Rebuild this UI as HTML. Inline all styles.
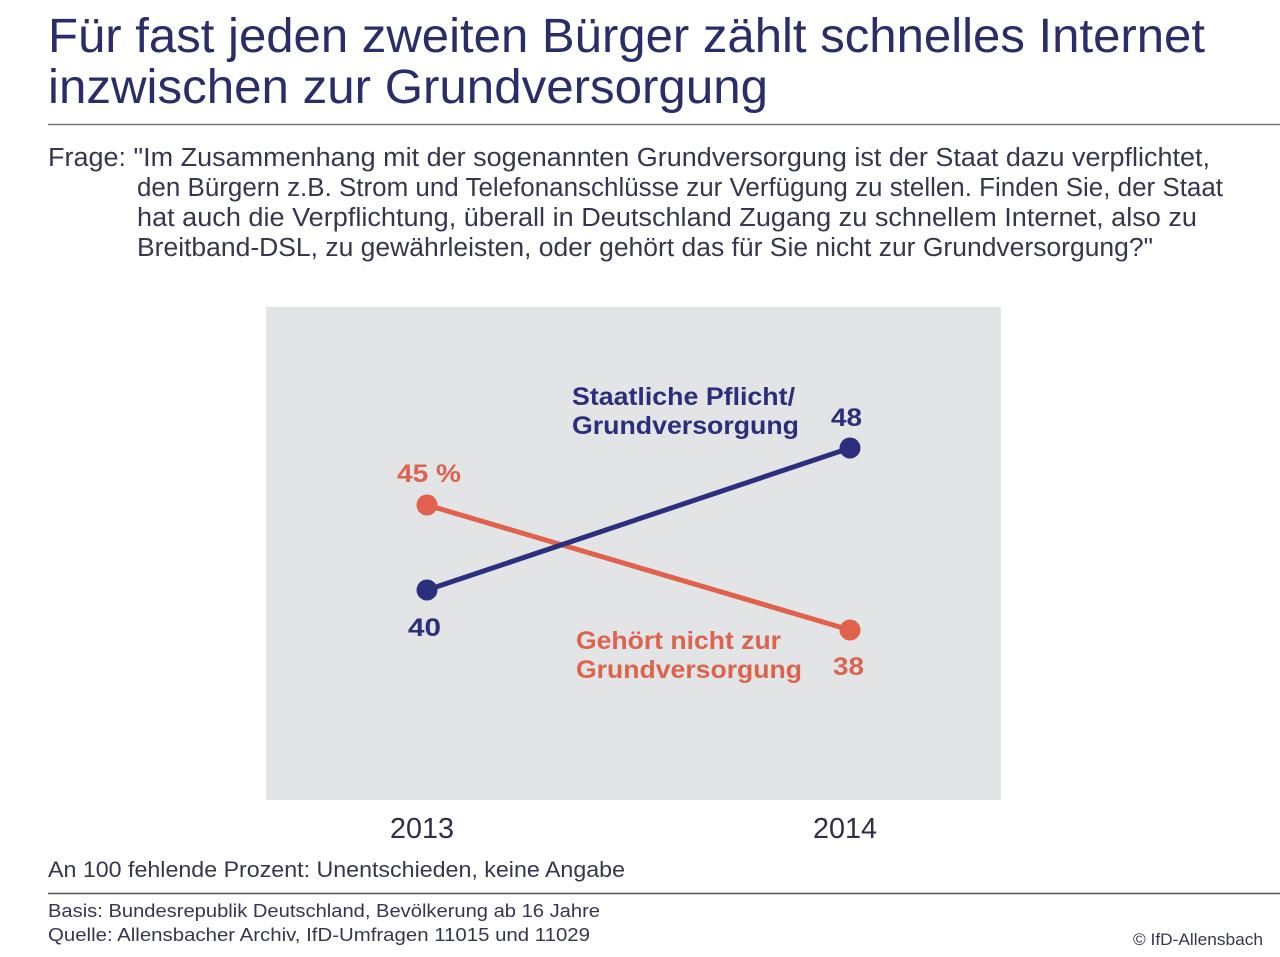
<!DOCTYPE html>
<html>
<head>
<meta charset="utf-8">
<style>
html,body{margin:0;padding:0;background:#fff;}
svg{display:block;}
text{font-family:"Liberation Sans",sans-serif;}
</style>
</head>
<body>
<svg width="1280" height="957" viewBox="0 0 1280 957" xmlns="http://www.w3.org/2000/svg">
<rect x="0" y="0" width="1280" height="957" fill="#ffffff"/>
<!-- Title -->
<g fill="#2a2d68" font-size="48">
<text x="48" y="52" textLength="1157" lengthAdjust="spacingAndGlyphs">Für fast jeden zweiten Bürger zählt schnelles Internet</text>
<text x="48" y="103" textLength="720" lengthAdjust="spacingAndGlyphs">inzwischen zur Grundversorgung</text>
</g>
<line x1="48" y1="124.5" x2="1280" y2="124.5" stroke="#7a7a7a" stroke-width="1.6"/>
<!-- Question -->
<g fill="#35374c" font-size="25.5">
<text x="48" y="166" textLength="1162" lengthAdjust="spacingAndGlyphs">Frage: "Im Zusammenhang mit der sogenannten Grundversorgung ist der Staat dazu verpflichtet,</text>
<text x="137" y="196" textLength="1086" lengthAdjust="spacingAndGlyphs">den Bürgern z.B. Strom und Telefonanschlüsse zur Verfügung zu stellen. Finden Sie, der Staat</text>
<text x="137" y="226" textLength="1060" lengthAdjust="spacingAndGlyphs">hat auch die Verpflichtung, überall in Deutschland Zugang zu schnellem Internet, also zu</text>
<text x="137" y="256" textLength="1016" lengthAdjust="spacingAndGlyphs">Breitband-DSL, zu gewährleisten, oder gehört das für Sie nicht zur Grundversorgung?"</text>
</g>
<!-- Chart box -->
<rect x="266" y="307" width="735" height="493" fill="#e3e4e6"/>
<!-- Lines -->
<line x1="427" y1="505" x2="850" y2="630" stroke="#e0614c" stroke-width="5"/>
<line x1="427" y1="590" x2="850" y2="448" stroke="#2b2f7e" stroke-width="5"/>
<circle cx="427" cy="505" r="10.5" fill="#e0614c"/>
<circle cx="850" cy="630" r="10.5" fill="#e0614c"/>
<circle cx="427" cy="590" r="10.5" fill="#2b2f7e"/>
<circle cx="850" cy="448" r="10.5" fill="#2b2f7e"/>
<!-- Labels -->
<g font-weight="bold" font-size="25" fill="#2b2f7a">
<text x="572" y="405" textLength="223" lengthAdjust="spacingAndGlyphs">Staatliche Pflicht/</text>
<text x="572" y="434" textLength="227" lengthAdjust="spacingAndGlyphs">Grundversorgung</text>
<text x="831" y="426" textLength="31" lengthAdjust="spacingAndGlyphs">48</text>
<text x="408" y="636" textLength="33" lengthAdjust="spacingAndGlyphs">40</text>
</g>
<g font-weight="bold" font-size="25" fill="#dc644f">
<text x="397" y="482" textLength="64" lengthAdjust="spacingAndGlyphs">45 %</text>
<text x="576" y="649" textLength="205" lengthAdjust="spacingAndGlyphs">Gehört nicht zur</text>
<text x="576" y="678" textLength="226" lengthAdjust="spacingAndGlyphs">Grundversorgung</text>
<text x="833" y="675" textLength="31" lengthAdjust="spacingAndGlyphs">38</text>
</g>
<!-- Years -->
<g fill="#2e3048" font-size="29">
<text x="390" y="838" textLength="64" lengthAdjust="spacingAndGlyphs">2013</text>
<text x="813" y="838" textLength="64" lengthAdjust="spacingAndGlyphs">2014</text>
</g>
<!-- Footnotes -->
<text x="48" y="877" font-size="22" fill="#35374c" textLength="577" lengthAdjust="spacingAndGlyphs">An 100 fehlende Prozent: Unentschieden, keine Angabe</text>
<line x1="48" y1="893.5" x2="1280" y2="893.5" stroke="#555555" stroke-width="1.6"/>
<g fill="#35374c" font-size="18.5">
<text x="48" y="917" textLength="552" lengthAdjust="spacingAndGlyphs">Basis: Bundesrepublik Deutschland, Bevölkerung ab 16 Jahre</text>
<text x="48" y="941" textLength="542" lengthAdjust="spacingAndGlyphs">Quelle: Allensbacher Archiv, IfD-Umfragen 11015 und 11029</text>
</g>
<text x="1133" y="945" font-size="16.5" fill="#35374c" textLength="130" lengthAdjust="spacingAndGlyphs">© IfD-Allensbach</text>
</svg>
</body>
</html>
